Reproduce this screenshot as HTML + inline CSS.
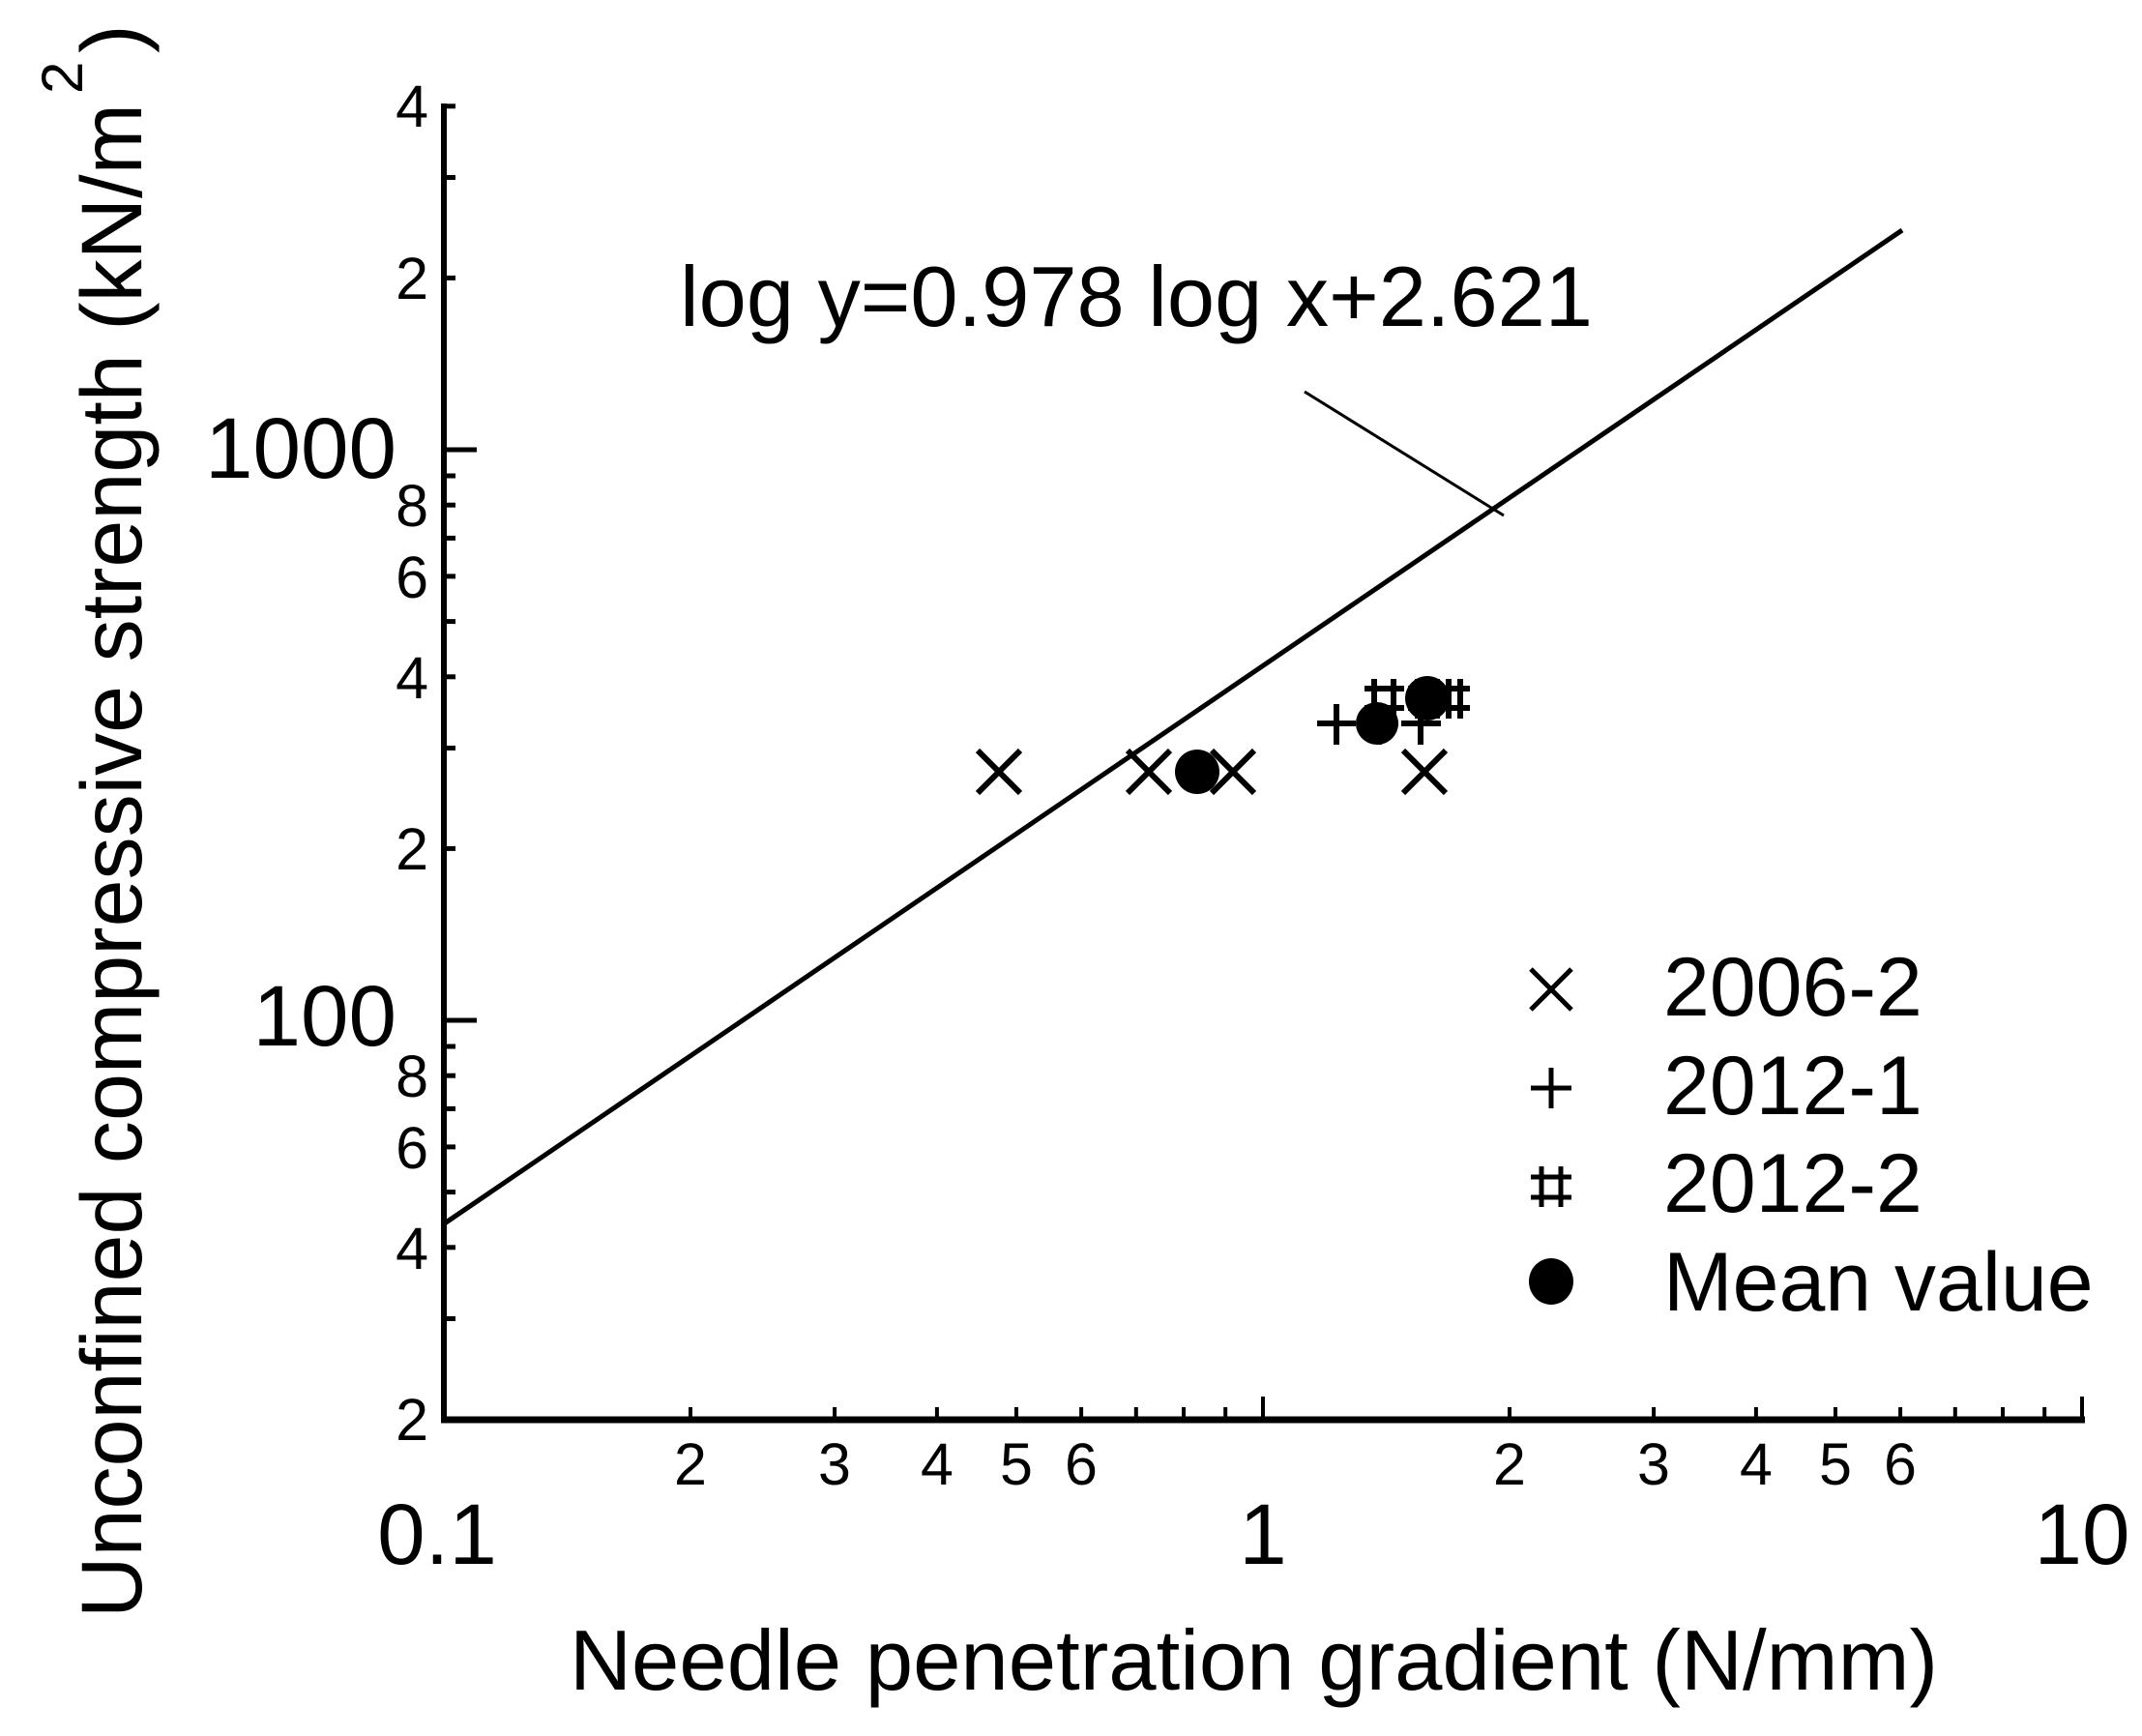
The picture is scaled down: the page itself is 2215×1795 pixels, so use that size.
<!DOCTYPE html>
<html><head><meta charset="utf-8"><style>html,body{margin:0;padding:0;background:#fff}svg{display:block}</style></head>
<body>
<svg xmlns="http://www.w3.org/2000/svg" width="2215" height="1795" viewBox="0 0 2215 1795" font-family="Liberation Sans, Arial, sans-serif" fill="#000">
<rect width="2215" height="1795" fill="#fff"/>
<!-- axes -->
<line x1="459" y1="107" x2="459" y2="1471" stroke="#000" stroke-width="6"/>
<line x1="456" y1="1468" x2="2156" y2="1468" stroke="#000" stroke-width="7"/>
<!-- y ticks -->
<g stroke="#000" stroke-width="5">
<line x1="459" y1="1055" x2="493" y2="1055"/>
<line x1="459" y1="465" x2="493" y2="465"/>
<line x1="459" y1="1363.5" x2="471" y2="1363.5"/>
<line x1="459" y1="1289.8" x2="471" y2="1289.8"/>
<line x1="459" y1="1232.6" x2="471" y2="1232.6"/>
<line x1="459" y1="1185.9" x2="471" y2="1185.9"/>
<line x1="459" y1="1146.4" x2="471" y2="1146.4"/>
<line x1="459" y1="1112.2" x2="471" y2="1112.2"/>
<line x1="459" y1="1082" x2="471" y2="1082"/>
<line x1="459" y1="877.4" x2="471" y2="877.4"/>
<line x1="459" y1="773.5" x2="471" y2="773.5"/>
<line x1="459" y1="699.8" x2="471" y2="699.8"/>
<line x1="459" y1="642.6" x2="471" y2="642.6"/>
<line x1="459" y1="595.9" x2="471" y2="595.9"/>
<line x1="459" y1="556.4" x2="471" y2="556.4"/>
<line x1="459" y1="522.2" x2="471" y2="522.2"/>
<line x1="459" y1="492" x2="471" y2="492"/>
<line x1="459" y1="287.4" x2="471" y2="287.4"/>
<line x1="459" y1="183.5" x2="471" y2="183.5"/>
<line x1="459" y1="109.8" x2="471" y2="109.8"/>
</g>
<!-- x ticks -->
<g stroke="#000" stroke-width="4">
<line x1="1306" y1="1468" x2="1306" y2="1444"/>
<line x1="2153" y1="1468" x2="2153" y2="1444"/>
<line x1="714" y1="1468" x2="714" y2="1455"/>
<line x1="863.1" y1="1468" x2="863.1" y2="1455"/>
<line x1="968.9" y1="1468" x2="968.9" y2="1455"/>
<line x1="1051" y1="1468" x2="1051" y2="1455"/>
<line x1="1118.1" y1="1468" x2="1118.1" y2="1455"/>
<line x1="1174.8" y1="1468" x2="1174.8" y2="1455"/>
<line x1="1224" y1="1468" x2="1224" y2="1455"/>
<line x1="1267.2" y1="1468" x2="1267.2" y2="1455"/>
<line x1="1561" y1="1468" x2="1561" y2="1455"/>
<line x1="1710.1" y1="1468" x2="1710.1" y2="1455"/>
<line x1="1815.9" y1="1468" x2="1815.9" y2="1455"/>
<line x1="1898" y1="1468" x2="1898" y2="1455"/>
<line x1="1965.1" y1="1468" x2="1965.1" y2="1455"/>
<line x1="2021.8" y1="1468" x2="2021.8" y2="1455"/>
<line x1="2071" y1="1468" x2="2071" y2="1455"/>
<line x1="2114.2" y1="1468" x2="2114.2" y2="1455"/>
</g>
<!-- y labels -->
<g font-size="61" text-anchor="end">
<text x="443" y="131">4</text>
<text x="443" y="309">2</text>
<text x="443" y="544">8</text>
<text x="443" y="618">6</text>
<text x="443" y="722">4</text>
<text x="443" y="899">2</text>
<text x="443" y="1134">8</text>
<text x="443" y="1208">6</text>
<text x="443" y="1312">4</text>
<text x="443" y="1489">2</text>
</g>
<g font-size="89" text-anchor="end">
<text x="410" y="494">1000</text>
<text x="410" y="1081">100</text>
</g>
<!-- x labels -->
<g font-size="61" text-anchor="middle">
<text x="714" y="1535">2</text>
<text x="863" y="1535">3</text>
<text x="969" y="1535">4</text>
<text x="1051" y="1535">5</text>
<text x="1118" y="1535">6</text>
<text x="1561" y="1535">2</text>
<text x="1710" y="1535">3</text>
<text x="1816" y="1535">4</text>
<text x="1898" y="1535">5</text>
<text x="1965" y="1535">6</text>
</g>
<g font-size="89" text-anchor="middle">
<text x="452" y="1617">0.1</text>
<text x="1306" y="1617">1</text>
<text x="2153" y="1617">10</text>
</g>
<!-- titles -->
<text x="589" y="1747" font-size="88" textLength="1415" lengthAdjust="spacingAndGlyphs">Needle penetration gradient (N/mm)</text>
<g transform="translate(146,1673) rotate(-90)">
<text x="0" y="0" font-size="89" textLength="1566" lengthAdjust="spacingAndGlyphs">Unconfined compressive strength (kN/m</text>
<text x="1576" y="-61" font-size="60">2</text>
<text x="1618" y="0" font-size="89">)</text>
</g>
<!-- fit line -->
<line x1="459" y1="1265.5" x2="1967" y2="238" stroke="#000" stroke-width="5"/>
<line x1="1349" y1="405" x2="1555" y2="533" stroke="#000" stroke-width="3"/>
<text x="703" y="337" font-size="88" textLength="944" lengthAdjust="spacingAndGlyphs">log y=0.978 log x+2.621</text>
<!-- data: 2006-2 X -->
<g stroke="#000" stroke-width="6" fill="none">
<path d="M1011 776 L1055 820 M1055 776 L1011 820"/>
<path d="M1166 776 L1210 820 M1210 776 L1166 820"/>
<path d="M1253 776 L1297 820 M1297 776 L1253 820"/>
<path d="M1451 776 L1495 820 M1495 776 L1451 820"/>
<!-- 2012-1 + -->
<path d="M1362 748 L1402 748 M1382 728 L1382 770"/>
<path d="M1406 748 L1446 748 M1426 728 L1426 770"/>
<path d="M1449 748 L1490 748 M1469 728 L1469 770"/>
<!-- 2012-2 # -->
<path d="M1411 712 L1452 712 M1411 732 L1452 732 M1421 702 L1421 743 M1441 702 L1441 743"/>
<path d="M1456 712 L1497 712 M1456 732 L1497 732 M1466 702 L1466 743 M1486 702 L1486 743"/>
<path d="M1484 712 L1520 712 M1484 732 L1520 732 M1498 702 L1498 743 M1510 702 L1510 743"/>
</g>
<!-- means -->
<circle cx="1238" cy="798" r="23"/>
<circle cx="1424" cy="748" r="22"/>
<circle cx="1476" cy="722" r="23"/>
<!-- legend -->
<g stroke="#000" stroke-width="5" fill="none">
<path d="M1583 1002 L1625 1044 M1625 1002 L1583 1044"/>
<path d="M1583 1125 L1625 1125 M1604 1104 L1604 1146"/>
<path d="M1583 1217 L1625 1217 M1583 1238 L1625 1238 M1594 1206 L1594 1248 M1614 1206 L1614 1248"/>
</g>
<ellipse cx="1604" cy="1325" rx="23" ry="24"/>
<g font-size="86">
<text x="1720" y="1050">2006-2</text>
<text x="1720" y="1152">2012-1</text>
<text x="1720" y="1253">2012-2</text>
<text x="1720" y="1355">Mean value</text>
</g>
</svg>
</body></html>
